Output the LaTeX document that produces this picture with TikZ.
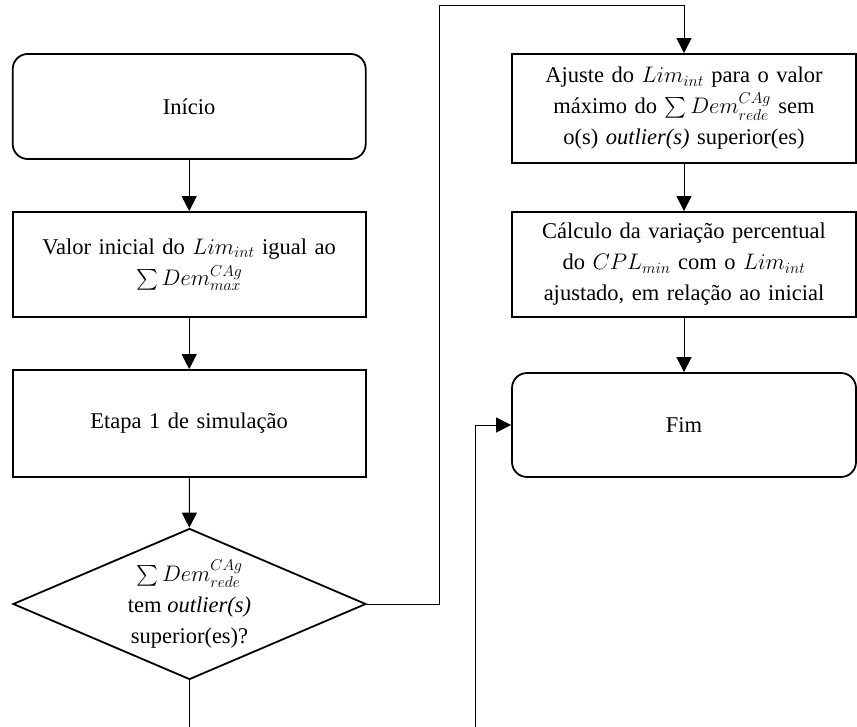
\RequirePackage{fix-cm}
\documentclass[tikz,border=0pt]{standalone}
\usepackage{amsmath}
\usepackage{fontspec}
\setmainfont{Liberation Serif}
\usetikzlibrary{shapes.geometric,arrows.meta}
\begin{document}
\begin{tikzpicture}[x=1pt,y=-1pt,
  every node/.style={font=\fontsize{22.5}{31}\selectfont, align=center},
  box/.style={draw, line width=1.8pt, rectangle, inner sep=0pt},
  leftbox/.style={box, minimum width=353pt, text width=340pt},
  rightbox/.style={box, minimum width=344pt, text width=336pt},
  terminal/.style={rounded corners=15pt},
  decision/.style={draw, line width=1.8pt, diamond, aspect=2.34, inner sep=0pt,
    minimum width=353pt, minimum height=151pt},
  flow/.style={line width=1pt, -{Triangle[length=15pt,width=15pt]}},
  plain/.style={line width=1pt}]
\useasboundingbox (0,0) rectangle (857,727);

% left column
\node[leftbox, terminal, minimum height=105pt] (inicio) at (189.2,106.5) {Início};
\node[leftbox, minimum height=105pt] (valor) at (189.2,264.5)
  {Valor inicial do $Lim_{int}$ igual ao\\ $\sum Dem^{CAg}_{max}$};
\node[leftbox, minimum height=107pt] (etapa) at (189.2,423.5) {Etapa 1 de simulação};
\node[decision] (decisao) at (189.5,604)
  {$\sum Dem^{CAg}_{rede}$\\ tem \textit{outlier(s)}\\ superior(es)?};

% right column
\node[rightbox, minimum height=109pt] (ajuste) at (684,108.5)
  {Ajuste do $Lim_{int}$ para o valor\\ máximo do $\sum Dem^{CAg}_{rede}$ sem\\ o(s) \textit{outlier(s)} superior(es)};
\node[rightbox, minimum height=105pt] (calculo) at (684,264.5)
  {Cálculo da variação percentual\\ do $CPL_{min}$ com o $Lim_{int}$\\ ajustado, em relação ao inicial};
\node[rightbox, terminal, minimum height=104pt] (fim) at (684,425) {Fim};

% routing points
\coordinate (topturn) at (439,6);
\coordinate (naoend) at (189.5,727);
\coordinate (retorno) at (475,727);

% connectors
\draw[flow] (inicio) -- (valor);
\draw[flow] (valor) -- (etapa);
\draw[flow] (etapa) -- (decisao);
\draw[flow] (decisao.east) -| (topturn) -| (ajuste.north);
\draw[flow] (ajuste) -- (calculo);
\draw[flow] (calculo) -- (fim);
\draw[plain] (decisao.south) -- (naoend);
\draw[flow] (retorno) |- (fim.west);
\end{tikzpicture}
\end{document}
